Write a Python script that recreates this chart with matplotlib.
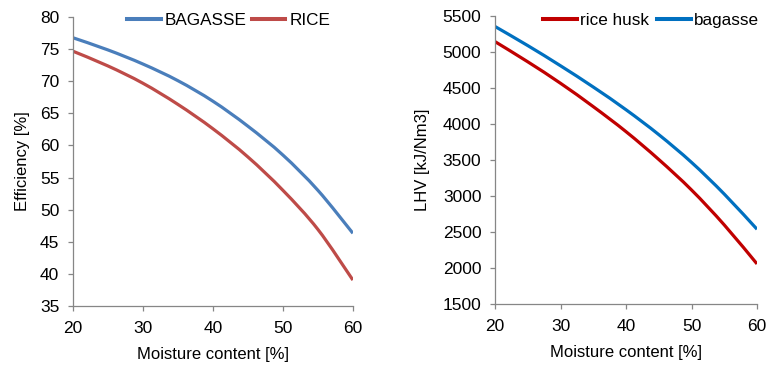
import numpy as np
import matplotlib.pyplot as plt
from matplotlib.path import Path
from matplotlib.patches import PathPatch
from matplotlib.lines import Line2D

plt.rcParams["font.family"] = ["Liberation Sans", "DejaVu Sans"]

moisture = [20, 25, 30, 35, 40, 45, 50, 55, 60]

# left panel: efficiency [%]
eff_bagasse = [76.8, 74.9, 72.7, 70.1, 66.9, 63.0, 58.5, 53.0, 46.3]
eff_rice = [74.7, 72.4, 69.7, 66.4, 62.6, 58.2, 53.0, 46.9, 39.0]

# right panel: LHV [kJ/Nm3]
lhv_rice_husk = [5140, 4860, 4562, 4238, 3891, 3505, 3082, 2597, 2056]
lhv_bagasse = [5350, 5085, 4805, 4510, 4195, 3850, 3465, 3025, 2537]

SPINE = "#868686"
LW = 2.3


def smooth_line(ax, x, y, color, label):
    # excel-like smoothed line: bezier segments through the data points
    pts = np.column_stack([x, y]).astype(float)
    ext = np.vstack([pts[0], pts, pts[-1]])
    verts = [pts[0]]
    codes = [Path.MOVETO]
    for i in range(len(pts) - 1):
        p0, p1, p2, p3 = ext[i], ext[i + 1], ext[i + 2], ext[i + 3]
        verts += [p1 + (p2 - p0) / 6, p2 - (p3 - p1) / 6, p2]
        codes += [Path.CURVE4] * 3
    ax.add_patch(PathPatch(Path(verts, codes), facecolor="none", edgecolor=color,
                           lw=LW, capstyle="butt", joinstyle="round"))
    return Line2D([], [], color=color, lw=LW + 0.6, label=label)


def style_axes(ax):
    for side in ("top", "right"):
        ax.spines[side].set_visible(False)
    for side in ("left", "bottom"):
        ax.spines[side].set_color(SPINE)
        ax.spines[side].set_linewidth(0.9)
    ax.tick_params(direction="out", length=3.8, width=0.9, color=SPINE, labelsize=12.5)
    ax.tick_params(axis="y", pad=6)
    ax.tick_params(axis="x", pad=7)
    ax.set_xlim(20, 60)
    ax.set_xticks([20, 30, 40, 50, 60])
    ax.set_xlabel("Moisture content [%]", fontsize=12, labelpad=8)


fig = plt.figure(figsize=(7.69, 3.67), dpi=100)

ax1 = fig.add_axes([0.0949, 0.167, 0.364, 0.786])
h1 = smooth_line(ax1, moisture, eff_bagasse, "#4a7ebb", "BAGASSE")
h2 = smooth_line(ax1, moisture, eff_rice, "#be4b48", "RICE")
ax1.set_ylim(35, 80)
ax1.set_yticks(range(35, 81, 5))
ax1.set_ylabel("Efficiency [%]", fontsize=12, labelpad=7)
style_axes(ax1)
ax1.legend(handles=[h1, h2], loc="center", bbox_to_anchor=(0.557, 0.989), ncol=2,
           frameon=False, handlelength=1.95, handletextpad=0.25, columnspacing=0.3,
           fontsize=12.3, borderpad=0)

ax2 = fig.add_axes([0.6437, 0.1717, 0.3407, 0.7856])
h3 = smooth_line(ax2, moisture, lhv_rice_husk, "#c00000", "rice husk")
h4 = smooth_line(ax2, moisture, lhv_bagasse, "#0070c0", "bagasse")
ax2.set_ylim(1500, 5500)
ax2.set_yticks(range(1500, 5501, 500))
ax2.set_ylabel("LHV [kJ/Nm3]", fontsize=12, labelpad=9)
style_axes(ax2)
ax2.legend(handles=[h3, h4], loc="center", bbox_to_anchor=(0.595, 0.983), ncol=2,
           frameon=False, handlelength=2.0, handletextpad=0.15, columnspacing=0.5,
           fontsize=12.3, borderpad=0)

fig.savefig("out.png", dpi=100)
